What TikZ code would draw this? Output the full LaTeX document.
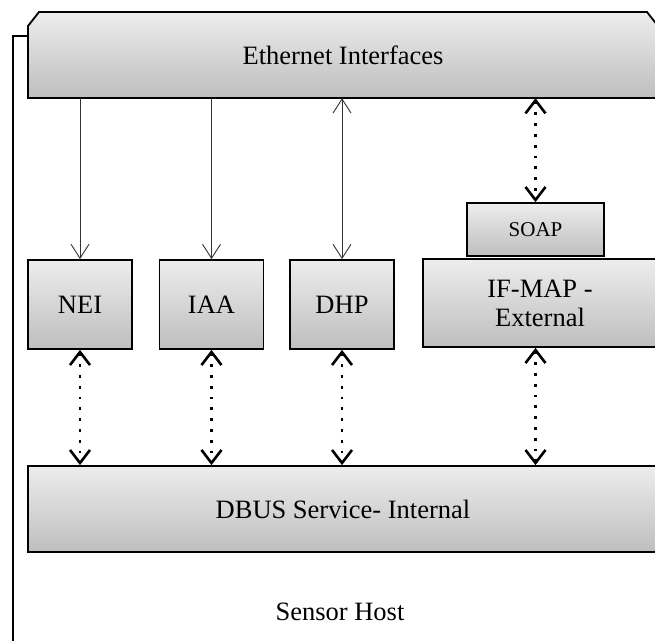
\documentclass[tikz,border=0pt]{standalone}
\usepackage{fontspec}
\setmainfont{Liberation Serif}
\usetikzlibrary{arrows.meta}

\definecolor{boxtop}{HTML}{EDEDED}
\definecolor{boxbot}{HTML}{BEBEBE}

\tikzset{
  thinhead/.tip={Straight Barb[length=14pt,width=18pt,line width=0.9pt]},
  dothead/.tip={Straight Barb[length=13pt,width=20pt,line width=2.6pt]},
  boxfill/.style={draw=black, line width=1.8pt, top color=boxtop, bottom color=boxbot},
  panel/.style={boxfill, rectangle, inner sep=0pt, align=center,
    font=\fontsize{26.5}{29}\selectfont},
  smallpanel/.style={panel, font=\fontsize{21}{24}\selectfont},
  hostframe/.style={draw=black, line width=1.8pt, fill=white, rectangle, inner sep=0pt},
  plainlabel/.style={inner sep=0pt, font=\fontsize{26.5}{29}\selectfont},
  thinlink/.style={draw=black!80, line width=0.9pt, -thinhead},
  thinboth/.style={draw=black!80, line width=0.9pt, thinhead-thinhead},
  dotlink/.style={draw=black, line width=2.8pt, dash pattern=on 2.8pt off 8pt, dothead-dothead}
}

\begin{document}
\begin{tikzpicture}[x=1pt,y=-1pt]
\useasboundingbox (0,0) rectangle (655,640);
\clip (0,0) rectangle (655,640);

% outer host frame
\node[hostframe, minimum width=687pt, minimum height=664pt] (host) at (356.5,368) {};
\node[plainlabel] (hostlabel) at (340,612) {Sensor Host};

% interface bar: outline with chamfered top corners, then its label node
\coordinate (ethNW) at (28,12);
\coordinate (ethNE) at (658,12);
\coordinate (ethSE) at (658,98);
\coordinate (ethSW) at (28,98);
\path[boxfill, line join=miter]
  ([yshift=-14pt]ethNW) -- ([xshift=11pt]ethNW) -- ([xshift=-11pt]ethNE)
  -- ([yshift=-14pt]ethNE) -- (ethSE) -- (ethSW) -- cycle;
\node[inner sep=0pt, minimum width=630pt, minimum height=86pt,
      font=\fontsize{26.5}{29}\selectfont] (eth) at (343,55) {Ethernet Interfaces};

% service modules
\node[panel, minimum width=104pt, minimum height=89pt] (nei) at (80,304.5) {NEI};
\node[panel, minimum width=104pt, minimum height=89pt] (iaa) at (211.5,304.5) {IAA};
\node[panel, minimum width=104pt, minimum height=89pt] (dhp) at (342,304.5) {DHP};
\node[smallpanel, minimum width=137pt, minimum height=53pt] (soap) at (535.5,229.5) {SOAP};
\node[panel, minimum width=234pt, minimum height=88pt] (ifmap) at (540,303) {IF-MAP -\\External};

% internal bus
\node[panel, minimum width=630pt, minimum height=86pt] (dbus) at (343,509) {DBUS Service- Internal};

% links from the interface bar
\draw[thinlink] (eth.south -| nei.north) -- (nei.north);
\draw[thinlink] (eth.south -| iaa.north) -- (iaa.north);
\draw[thinboth] (eth.south -| dhp.north) -- (dhp.north);
\draw[dotlink] (eth.south -| soap.north) -- (soap.north);

% links to the internal bus
\draw[dotlink] (nei.south) -- (nei.south |- dbus.north);
\draw[dotlink] (iaa.south) -- (iaa.south |- dbus.north);
\draw[dotlink] (dhp.south) -- (dhp.south |- dbus.north);
\draw[dotlink] (ifmap.south -| soap.south) -- (dbus.north -| soap.south);
\end{tikzpicture}
\end{document}
